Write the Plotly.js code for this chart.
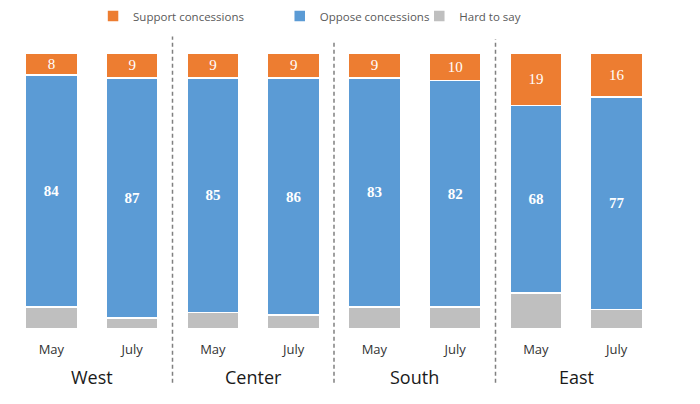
<!DOCTYPE html>
<html>
<head>
<meta charset="utf-8">
<script src="https://cdn.plot.ly/plotly-3.0.1.min.js"></script>
<style>html,body{margin:0;padding:0;background:#fff;}#chart{width:700px;height:404px;}</style>
</head>
<body>
<div id="chart"></div>
<script>
var regions = ["West", "Center", "South", "East"];
var periods = ["May", "July"];
var support = [8, 9, 9, 9, 9, 10, 19, 16];
var oppose = [84, 87, 85, 86, 83, 82, 68, 77];
var hard = [8, 4, 6, 5, 8, 8, 13, 7];

var cats = [], tickText = [];
regions.forEach(function (r) {
  periods.forEach(function (p) { cats.push(r + " " + p); tickText.push(p); });
});

var line = {color: "#ffffff", width: 1.5};
var labelFont = {family: "Liberation Serif, Times New Roman, serif", size: 15, color: "#ffffff"};
var traces = [
  {type: "bar", name: "Hard to say", x: cats, y: hard, legend: "legend3",
   marker: {color: "#BFBFBF", line: line}, hoverinfo: "y"},
  {type: "bar", name: "Oppose concessions", x: cats, y: oppose, legend: "legend2",
   marker: {color: "#5B9BD5", line: line},
   text: oppose, texttemplate: "<b>%{y}</b>", textposition: "inside", insidetextanchor: "middle",
   textangle: 0, constraintext: "none", textfont: labelFont},
  {type: "bar", name: "Support concessions", x: cats, y: support, legend: "legend",
   marker: {color: "#ED7D31", line: line},
   text: support, texttemplate: "%{y}", textposition: "inside", insidetextanchor: "middle",
   textangle: 0, constraintext: "none", textfont: labelFont}
];

var shapes = [];
[1.5, 3.5, 5.5].forEach(function (xv, i) {
  shapes.push({type: "line", xref: "x", yref: "paper", x0: xv, x1: xv,
    y0: -0.195, y1: [1.06, 1.04, 1.05][i],
    line: {color: "#808080", width: 1.5, dash: "4px,3px"}});
});

var annotations = regions.map(function (r, i) {
  return {text: r, xref: "x", yref: "paper", x: 2 * i + 0.5, y: -0.175,
    showarrow: false, yanchor: "middle",
    font: {family: "Open Sans, sans-serif", size: 18, color: "#1a1a1a"}};
});

var legFont = {family: "Open Sans, sans-serif", size: 11.5, color: "#595959"};
function leg(x) {
  return {orientation: "h", x: x, y: 1.134, xref: "paper", yref: "paper", xanchor: "left", yanchor: "middle",
    font: legFont, itemwidth: 30, bgcolor: "rgba(0,0,0,0)", tracegroupgap: 0};
}

var layout = {
  width: 700, height: 404,
  margin: {l: 11, r: 43, t: 53, b: 75, autoexpand: false},
  paper_bgcolor: "#ffffff", plot_bgcolor: "#ffffff",
  barmode: "stack", bargap: 0.355,
  showlegend: true,
  legend: leg(0.127), legend2: leg(0.416), legend3: leg(0.632),
  xaxis: {type: "category", categoryorder: "array", categoryarray: cats,
    tickvals: cats, ticktext: tickText, range: [-0.5, 7.5],
    showline: false, showgrid: false, zeroline: false, ticks: "", ticklabelstandoff: 11,
    tickfont: {family: "Open Sans, sans-serif", size: 13, color: "#333333"}},
  yaxis: {range: [0, 100], visible: false, showgrid: false, zeroline: false},
  shapes: shapes,
  annotations: annotations
};

Plotly.newPlot("chart", traces, layout, {displayModeBar: false, staticPlot: true});
</script>
</body>
</html>
